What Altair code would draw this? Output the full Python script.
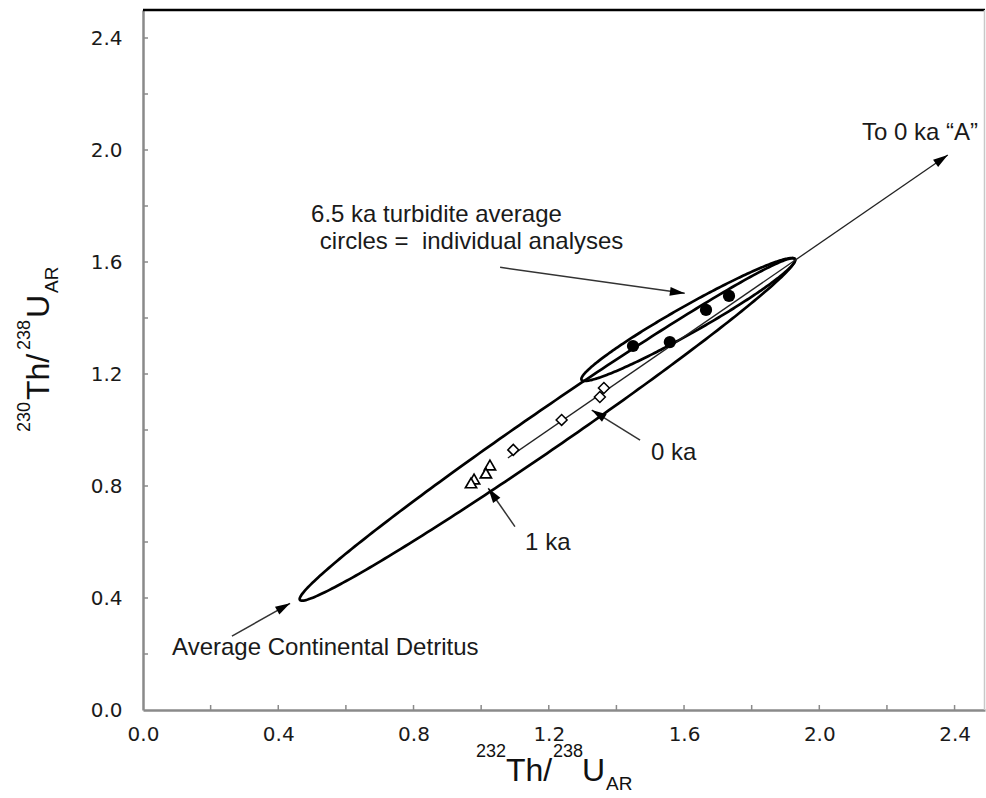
import numpy as np
import pandas as pd
import altair as alt

# ---------------- data ----------------
circles_x = [1.449, 1.558, 1.665, 1.733]          # 6.5 ka turbidite individual analyses
circles_y = [1.300, 1.314, 1.429, 1.479]
diamonds_x = [1.095, 1.238, 1.351, 1.363]         # 0 ka
diamonds_y = [0.929, 1.036, 1.118, 1.150]
triangles_x = [1.026, 1.014, 0.979, 0.970]        # 1 ka
triangles_y = [0.875, 0.846, 0.825, 0.811]

trend_x = [1.079, 2.380]                          # line to 0 ka "A"
trend_y = [0.900, 1.982]

# ellipses: end points of the long axis (data units)
big_tips_x = [0.464, 1.928]
big_tips_y = [0.393, 1.611]
small_tips_x = [1.297, 1.928]
small_tips_y = [1.179, 1.610]

# annotation arrows (tail -> head)
arrow_x1 = [1.056, 1.470, 1.100, 0.263]
arrow_y1 = [1.581, 0.964, 0.655, 0.264]
arrow_x2 = [1.602, 1.327, 1.021, 0.435]
arrow_y2 = [1.488, 1.071, 0.792, 0.381]

label_text = ["To 0 ka \u201cA\u201d", "6.5 ka turbidite average",
              "circles =\u00a0 individual analyses", "0 ka", "1 ka",
              "Average Continental Detritus"]
label_x = [2.126, 0.497, 0.523, 1.502, 1.130, 0.086]
label_y = [2.061, 1.768, 1.671, 0.918, 0.596, 0.221]

tick_labels = [0.0, 0.4, 0.8, 1.2, 1.6, 2.0, 2.4]
minor_ticks = [0.2, 0.4, 0.6, 0.8, 1.0, 1.2, 1.4, 1.6, 1.8, 2.0, 2.2, 2.4]

# ---------------- layout ----------------
W, H = 842, 700
XMAX, YMAX = 2.49, 2.5
FONT = "Liberation Sans"
TICK_FONT, TICK_SIZE = "DejaVu Sans", 20
sx, sy = W / XMAX, H / YMAX

xs = alt.Scale(domain=[0, XMAX], nice=False, zero=False)
ys = alt.Scale(domain=[0, YMAX], nice=False, zero=False)

axis_common = dict(
    ticks=False, tickSize=0, grid=False, domainColor="#8a8a8a", domainWidth=2.5,
    labelFontSize=TICK_SIZE, labelFont=TICK_FONT, labelColor="#1a1a1a", format=".1f",
    values=tick_labels, title=None, labelFlush=False,
)
xaxis = alt.Axis(labelPadding=14, **axis_common)
yaxis = alt.Axis(labelPadding=21, **axis_common)


def X(f):
    return alt.X(f, scale=xs, axis=xaxis)


def Y(f):
    return alt.Y(f, scale=ys, axis=yaxis)


def ellipse_df(tx, ty, halfwidth_px, n=300):
    p1 = np.array([tx[0] * sx, ty[0] * sy])
    p2 = np.array([tx[1] * sx, ty[1] * sy])
    c = (p1 + p2) / 2
    d = p2 - p1
    a = np.linalg.norm(d) / 2
    u = d / np.linalg.norm(d)
    v = np.array([-u[1], u[0]])
    t = np.linspace(0, 2 * np.pi, n)
    pts = c + a * np.cos(t)[:, None] * u + halfwidth_px * np.sin(t)[:, None] * v
    return pd.DataFrame({"x": pts[:, 0] / sx, "y": pts[:, 1] / sy, "o": np.arange(n)})


def ellipse_layer(df):
    return alt.Chart(df).mark_line(color="black", strokeWidth=2.7, interpolate="linear").encode(
        x=X("x:Q"), y=Y("y:Q"), order="o:Q")


def head_angle(x1, y1, x2, y2):
    dx = (x2 - x1) * sx
    dy = (y2 - y1) * sy
    return float(np.degrees(np.arctan2(dx, dy)) % 360)


base = alt.Chart(pd.DataFrame({"x": [0.0], "y": [0.0]})).mark_point(opacity=0).encode(
    x=X("x:Q"), y=Y("y:Q"))

tick_df = pd.DataFrame({"v": minor_ticks})
yticks = alt.Chart(tick_df).mark_rule(color="#8a8a8a", strokeWidth=1.5).encode(
    y=Y("v:Q"), x=alt.value(0), x2=alt.value(5))
xticks = alt.Chart(tick_df).mark_rule(color="#8a8a8a", strokeWidth=1.5).encode(
    x=X("v:Q"), y=alt.value(H), y2=alt.value(H - 5))

one = pd.DataFrame({"a": [0]})
top_border = alt.Chart(one).mark_rule(color="black", strokeWidth=2.5).encode(
    x=alt.value(0), x2=alt.value(W), y=alt.value(0))
right_border = alt.Chart(one).mark_rule(color="#c8c8c8", strokeWidth=1.5).encode(
    x=alt.value(W - 0.5), y=alt.value(0), y2=alt.value(H))

big_ell = ellipse_layer(ellipse_df(big_tips_x, big_tips_y, 19.5))
small_ell = ellipse_layer(ellipse_df(small_tips_x, small_tips_y, 13.5))

trend_df = pd.DataFrame({"x": trend_x, "y": trend_y})
trend = alt.Chart(trend_df).mark_line(color="#222222", strokeWidth=1.3).encode(
    x=X("x:Q"), y=Y("y:Q"))

arr_df = pd.DataFrame({"x1": arrow_x1, "y1": arrow_y1, "x2": arrow_x2, "y2": arrow_y2})
arrow_lines = alt.Chart(arr_df).mark_rule(color="#333333", strokeWidth=1.5).encode(
    x=X("x1:Q"), y=Y("y1:Q"), x2="x2:Q", y2="y2:Q")

head_x = arrow_x2 + [trend_x[1]]
head_y = arrow_y2 + [trend_y[1]]
head_ang = [head_angle(a, b, c, d) for a, b, c, d in zip(arrow_x1, arrow_y1, arrow_x2, arrow_y2)]
head_ang.append(head_angle(trend_x[0], trend_y[0], trend_x[1], trend_y[1]))
heads_df = pd.DataFrame({"x": head_x, "y": head_y, "ang": head_ang})
heads = alt.Chart(heads_df).mark_point(
    shape="M0,0L-0.6,2L0.6,2Z", filled=True, color="black", size=220, opacity=1
).encode(x=X("x:Q"), y=Y("y:Q"), angle=alt.Angle("ang:Q", scale=None))

circ = alt.Chart(pd.DataFrame({"x": circles_x, "y": circles_y})).mark_point(
    shape="circle", filled=True, color="black", size=150, opacity=1).encode(
    x=X("x:Q"), y=Y("y:Q"))
diam = alt.Chart(pd.DataFrame({"x": diamonds_x, "y": diamonds_y})).mark_point(
    shape="M0,-1L1,0L0,1L-1,0Z", filled=True, fill="white", stroke="black", strokeWidth=1.5,
    size=120, opacity=1).encode(x=X("x:Q"), y=Y("y:Q"))
tri = alt.Chart(pd.DataFrame({"x": triangles_x, "y": triangles_y})).mark_point(
    shape="triangle-up", filled=True, fill="white", stroke="black", strokeWidth=1.7,
    size=125, opacity=1).encode(x=X("x:Q"), y=Y("y:Q"))

labels = alt.Chart(pd.DataFrame({"t": label_text, "x": label_x, "y": label_y})).mark_text(
    align="left", baseline="middle", font=FONT, fontSize=24, color="#1a1a1a").encode(
    x=X("x:Q"), y=Y("y:Q"), text="t:N")


def piece(txt, px, py, size, angle=0):
    return alt.Chart(one).mark_text(
        text=txt, align="left", baseline="alphabetic", font=FONT, fontSize=size,
        angle=angle, color="#111111").encode(x=alt.value(px), y=alt.value(py))


BIG, SUP = 32, 18
x_title = [
    piece("232", 333, 747, SUP), piece("Th/", 363, 771, BIG), piece("238", 410, 747, SUP),
    piece("U", 439, 771, BIG), piece("AR", 463, 780, SUP + 1),
]
y_title = [
    piece("230", -113, 422, SUP, 270), piece("Th/", -94, 390, BIG, 270),
    piece("238", -113, 340, SUP, 270), piece("U", -94, 308, BIG, 270),
    piece("AR", -85, 283, SUP + 1, 270),
]

chart = alt.layer(
    base, yticks, xticks, top_border, right_border, big_ell, small_ell, trend,
    arrow_lines, heads, tri, diam, circ, labels, *x_title, *y_title,
).properties(
    width=W, height=H,
    autosize=alt.AutoSizeParams(type="none"),
    padding={"left": 143, "top": 10, "right": 1, "bottom": 88},
    background="white",
).configure_view(stroke=None).configure_axis(
    labelFont=TICK_FONT, labelFontSize=TICK_SIZE, labelColor="#1a1a1a")

chart.save("out.html", embed_options={"renderer": "svg", "actions": False})
